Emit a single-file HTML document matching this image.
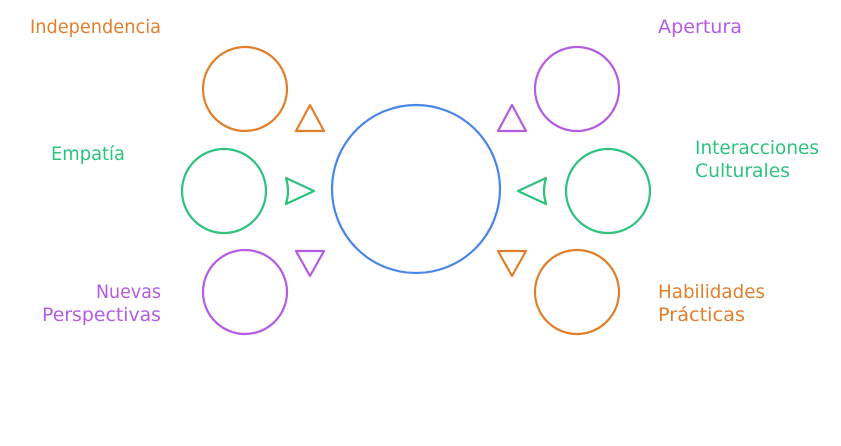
<!DOCTYPE html>
<html><head><meta charset="utf-8"><style>
html,body{margin:0;padding:0;background:#fff;}
svg{display:block;}
text{font-family:"DejaVu Sans","Liberation Sans",sans-serif;font-size:19px;}
</style></head><body>
<svg width="841" height="446" viewBox="0 0 841 446" xmlns="http://www.w3.org/2000/svg">
<g fill="none" stroke-width="2.2" stroke-linejoin="round">
<circle cx="416" cy="189" r="84" stroke="#4a86e8"/>
<circle cx="245" cy="89" r="42" stroke="#e07f2c"/>
<circle cx="224" cy="191" r="42" stroke="#2ec27e"/>
<circle cx="245" cy="292" r="42" stroke="#b45ce4"/>
<circle cx="577" cy="89" r="42" stroke="#b45ce4"/>
<circle cx="608" cy="191" r="42" stroke="#2ec27e"/>
<circle cx="577" cy="292" r="42" stroke="#e07f2c"/>
<path d="M310 105 L296 131 L324 131 Z" stroke="#e07f2c"/>
<path d="M286 178 L314 191 L286 204 Q290 191 286 178 Z" stroke="#2ec27e"/>
<path d="M296 251 L324 251 L310 276 Z" stroke="#b45ce4"/>
<path d="M512 105 L498 131 L526 131 Z" stroke="#b45ce4"/>
<path d="M546 178 L518 191 L546 204 Q542 191 546 178 Z" stroke="#2ec27e"/>
<path d="M498 251 L526 251 L512 276 Z" stroke="#e07f2c"/>
</g>
<g>
<text x="30" y="33" fill="#e07f2c" textLength="131" lengthAdjust="spacingAndGlyphs">Independencia</text>
<text x="51" y="160" fill="#2ec27e" textLength="74" lengthAdjust="spacingAndGlyphs">Empatía</text>
<text x="96" y="298" fill="#b45ce4" textLength="65" lengthAdjust="spacingAndGlyphs">Nuevas</text>
<text x="42" y="321" fill="#b45ce4" textLength="119" lengthAdjust="spacingAndGlyphs">Perspectivas</text>
<text x="658" y="33" fill="#b45ce4" textLength="84" lengthAdjust="spacingAndGlyphs">Apertura</text>
<text x="695" y="154" fill="#2ec27e" textLength="124" lengthAdjust="spacingAndGlyphs">Interacciones</text>
<text x="695" y="177" fill="#2ec27e" textLength="95" lengthAdjust="spacingAndGlyphs">Culturales</text>
<text x="658" y="298" fill="#e07f2c" textLength="107" lengthAdjust="spacingAndGlyphs">Habilidades</text>
<text x="658" y="321" fill="#e07f2c" textLength="87" lengthAdjust="spacingAndGlyphs">Prácticas</text>
</g>
</svg>
</body></html>
